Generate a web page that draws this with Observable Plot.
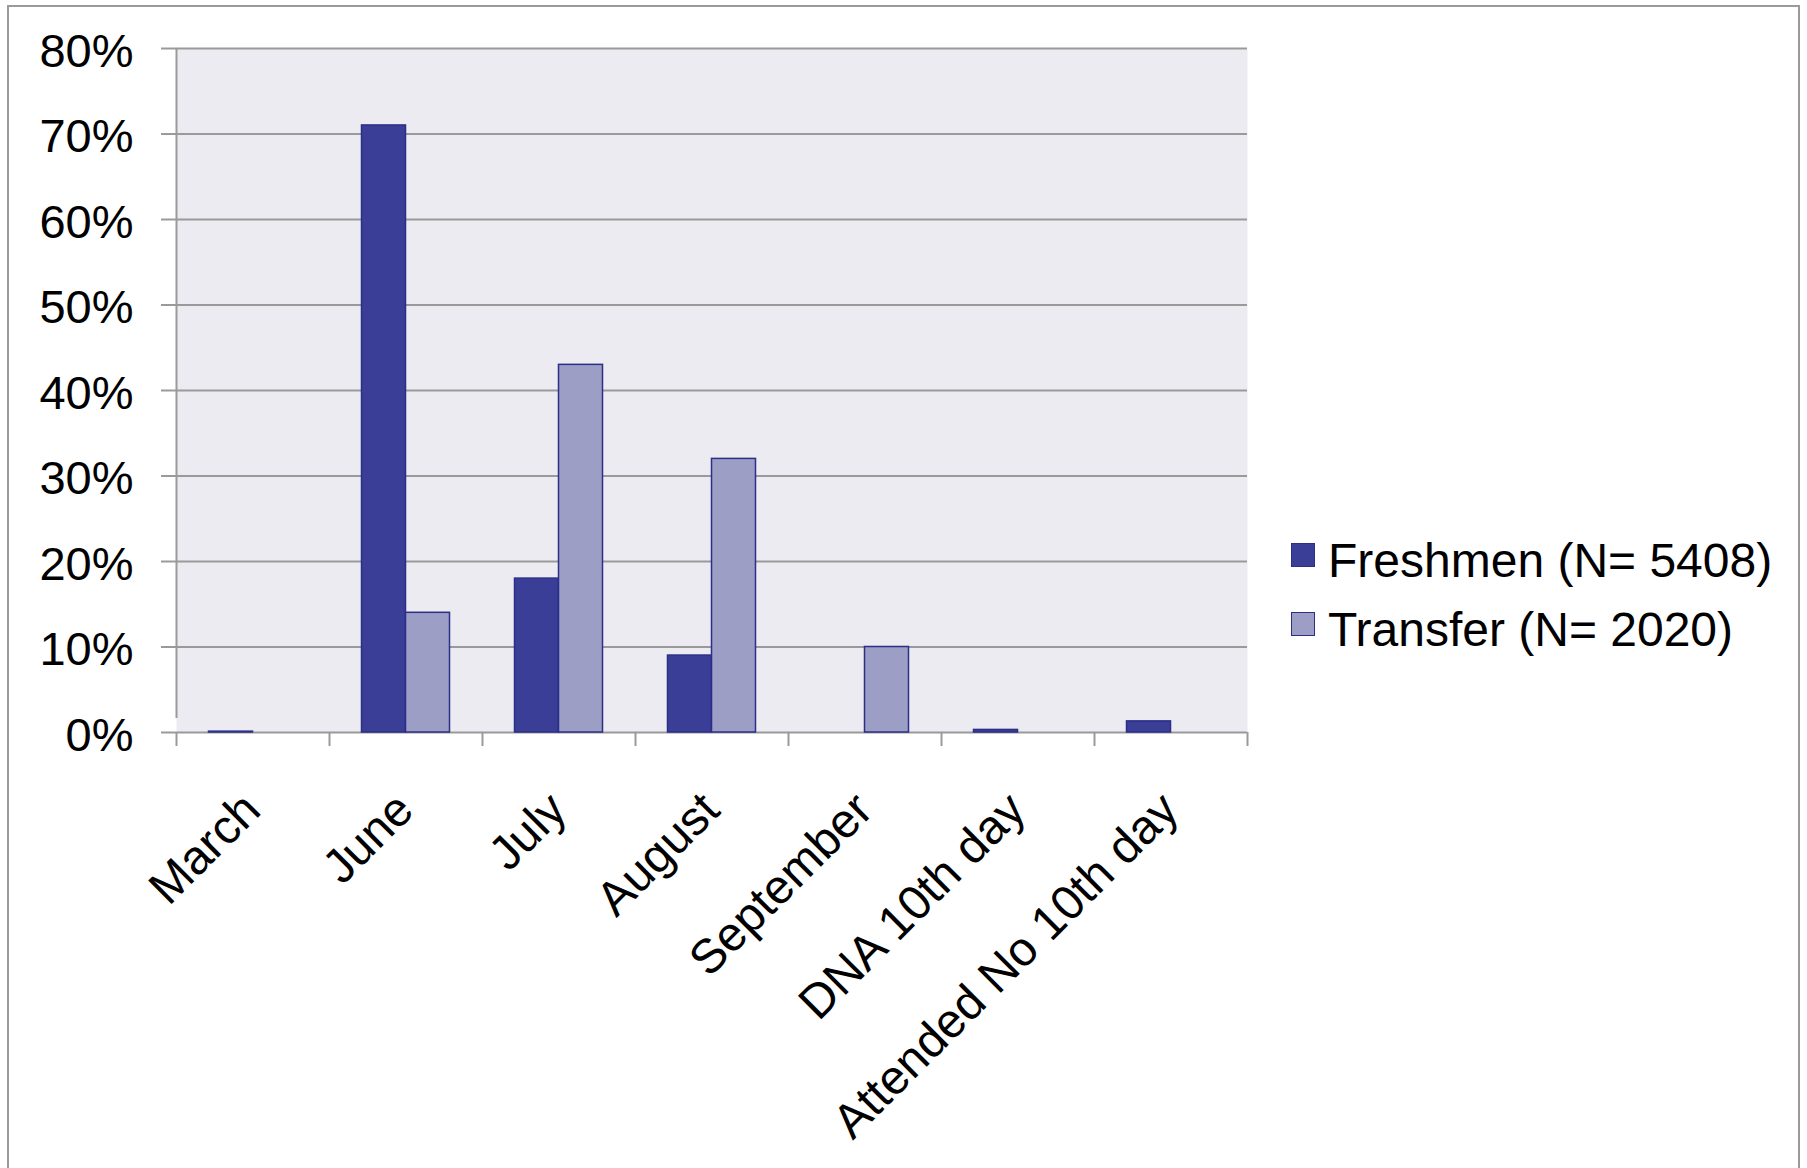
<!DOCTYPE html>
<html>
<head>
<meta charset="utf-8">
<script src="https://cdn.jsdelivr.net/npm/d3@7"></script>
<script src="https://cdn.jsdelivr.net/npm/@observablehq/plot@0.6"></script>
<style>
  html, body { margin: 0; padding: 0; background: #fff; }
  #chart { position: relative; width: 1807px; height: 1168px; overflow: hidden;
           font-family: "Liberation Sans", Arial, sans-serif; }
  #border { position: absolute; left: 7px; top: 5px; width: 1793px; height: 1200px;
            border: 2px solid #9a9a9a; box-sizing: border-box; }
  #legend { position: absolute; left: 1291px; top: 526px; font-size: 48px; color: #000; }
  .row { position: relative; height: 69px; line-height: 69px; padding-left: 37px; white-space: nowrap; }
  .sw { position: absolute; left: 0; top: 17px; width: 24px; height: 24px; box-sizing: border-box;
        border: 1.5px solid #2b2f88; }
  svg { position: absolute; left: 0; top: 0; }
</style>
</head>
<body>
<div id="chart">
  <div id="border"></div>
  <div id="legend"></div>
</div>
<script>
// Enrollment month shares, in percent
const categories = ["March", "June", "July", "August", "September", "DNA 10th day", "Attended No 10th day"];
const freshmen = [0.1, 71, 18, 9, 0, 0.3, 1.3];
const transfer = [0, 14, 43, 32, 10, 0, 0];
const seriesNames = ["Freshmen (N= 5408)", "Transfer (N= 2020)"];
const yTicks = [0, 10, 20, 30, 40, 50, 60, 70, 80];

const colors = { freshmen: "#3a3e96", transfer: "#9c9ec5", edge: "#2b2f88", grid: "#9a9a9a", panel: "#ecebf1" };

const W = 1807, H = 1168;
const margin = { left: 176, right: 560, top: 48, bottom: 436 };
const step = (W - margin.left - margin.right) / categories.length;
const half = step / 2;
const barW = 44;
const fontSize = 48;

const freshRows = categories.map((c, i) => ({ category: c, value: freshmen[i] })).filter(d => d.value > 0);
const transRows = categories.map((c, i) => ({ category: c, value: transfer[i] })).filter(d => d.value > 0);

const chart = Plot.plot({
  width: W,
  height: H,
  marginLeft: margin.left,
  marginRight: margin.right,
  marginTop: margin.top,
  marginBottom: margin.bottom,
  style: { fontFamily: "'Liberation Sans', Arial, sans-serif", fontSize: `${fontSize}px`, color: "#000", background: "transparent", overflow: "visible" },
  x: { domain: categories, padding: 0, axis: null },
  y: { domain: [0, 80], axis: null },
  marks: [
    Plot.frame({ fill: colors.panel, stroke: null }),
    Plot.ruleY(yTicks, { stroke: colors.grid, strokeWidth: 2 }),
    // left edge of the plot area, running down into the first category tick
    Plot.ruleX([categories[0]], { x: d => d, y1: 0, y2: 80, insetTop: -14, dx: -half, stroke: colors.grid, strokeWidth: 2 }),
    // category boundary ticks below the baseline
    Plot.ruleX(categories, { x: d => d, y1: 0, y2: 0, insetBottom: -14, dx: -half, stroke: colors.grid, strokeWidth: 2 }),
    Plot.ruleX([categories[categories.length - 1]], { x: d => d, y1: 0, y2: 0, insetBottom: -14, dx: half, stroke: colors.grid, strokeWidth: 2 }),
    Plot.barY(freshRows, { x: "category", y: "value", fill: colors.freshmen, stroke: colors.edge, strokeWidth: 1.5,
      insetLeft: half - barW, insetRight: half }),
    Plot.barY(transRows, { x: "category", y: "value", fill: colors.transfer, stroke: colors.edge, strokeWidth: 1.5,
      insetLeft: half, insetRight: half - barW }),
    // y tick marks
    Plot.axisY(yTicks, { tickSize: 15, tickFormat: () => "", stroke: colors.grid, strokeWidth: 2, label: null }),
    // y tick labels
    Plot.axisY(yTicks, { tickSize: 0, tickPadding: 43, tickFormat: d => `${d}%`, fill: "#000", fontSize: 47,
      label: null, textStroke: null, dy: 3 }),
    Plot.text(categories, { x: d => d, y: 0, text: d => d, rotate: -45, textAnchor: "end", lineAnchor: "bottom",
      dx: 10, dy: 80, fontSize, fill: "#000" })
  ]
});
document.getElementById("chart").appendChild(chart);

const legend = document.getElementById("legend");
[[seriesNames[0], colors.freshmen], [seriesNames[1], colors.transfer]].forEach(([name, fill]) => {
  const row = document.createElement("div");
  row.className = "row";
  const sw = document.createElement("span");
  sw.className = "sw";
  sw.style.background = fill;
  row.appendChild(sw);
  row.appendChild(document.createTextNode(name));
  legend.appendChild(row);
});
</script>
</body>
</html>
